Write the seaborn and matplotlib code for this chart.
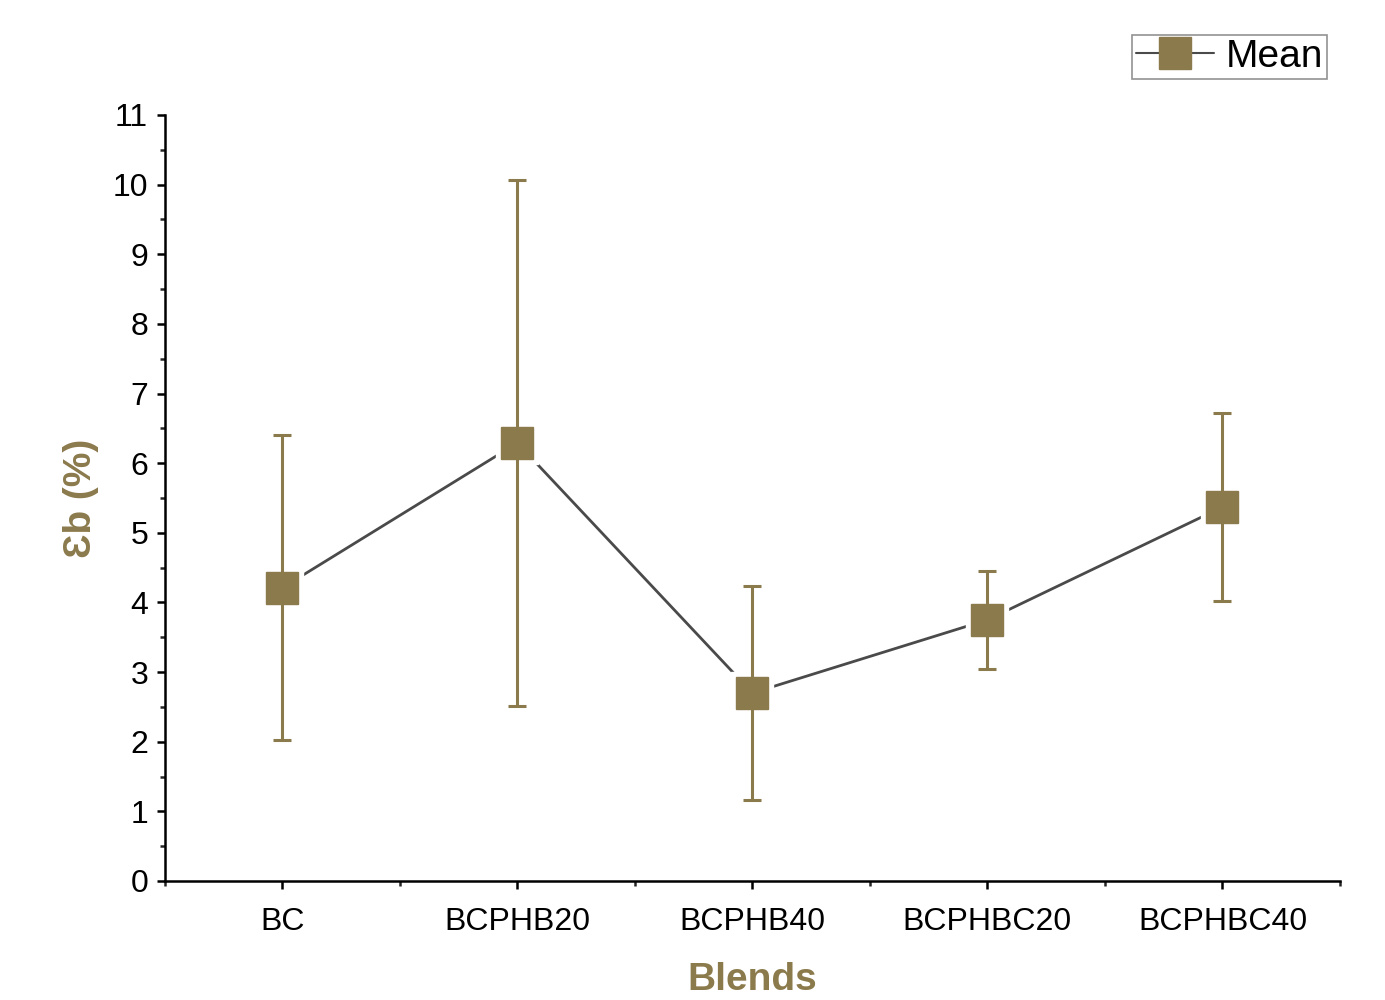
import numpy as np
import pandas as pd
import matplotlib
matplotlib.use("Agg")
import matplotlib.pyplot as plt
from matplotlib.lines import Line2D
from matplotlib.ticker import MultipleLocator
import seaborn as sns

# data
blends = ["BC", "BCPHB20", "BCPHB40", "BCPHBC20", "BCPHBC40"]
mean_eb = [4.21, 6.29, 2.70, 3.75, 5.37]
sd_eb = [2.19, 3.78, 1.53, 0.70, 1.35]

olive = "#8B7A4C"
grey = "#4a4a4a"

sns.set_style("ticks")
plt.rcParams["font.family"] = ["Liberation Sans", "DejaVu Sans"]
plt.rcParams["text.color"] = "black"

df = pd.DataFrame({"blend": blends, "mean": mean_eb, "sd": sd_eb})
df["pos"] = np.arange(len(df))

fig = plt.figure(figsize=(13.85, 10), dpi=100)
ax = fig.add_axes([0.119, 0.119, 0.8485, 0.766])

# connecting line
sns.lineplot(data=df, x="pos", y="mean", color=grey, linewidth=2, ax=ax, zorder=1)
# white halo so the line stops short of the squares
ax.plot(df["pos"], df["mean"], linestyle="none", marker="s", markersize=30,
        markerfacecolor="white", markeredgecolor="white", zorder=2)
# error bars
ax.errorbar(df["pos"], df["mean"], yerr=df["sd"], fmt="none", ecolor=olive,
            elinewidth=2.2, capsize=6.5, capthick=2.2, zorder=3)
# mean markers
ax.plot(df["pos"], df["mean"], linestyle="none", marker="s", markersize=23.5,
        markerfacecolor=olive, markeredgecolor=olive, zorder=4)

ax.set_xlim(-0.5, 4.5)
ax.set_ylim(0, 11)
ax.set_xticks(df["pos"])
ax.set_xticklabels(blends)
ax.xaxis.set_minor_locator(MultipleLocator(1, offset=0.5))
ax.yaxis.set_major_locator(MultipleLocator(1))
ax.yaxis.set_minor_locator(MultipleLocator(0.5))

for s in ["top", "right"]:
    ax.spines[s].set_visible(False)
for s in ["left", "bottom"]:
    ax.spines[s].set_linewidth(1.8)
    ax.spines[s].set_color("black")

ax.tick_params(axis="both", which="major", direction="out", length=6, width=1.8,
               labelsize=23, colors="black")
ax.tick_params(axis="both", which="minor", direction="out", length=3.5, width=1.8)
ax.tick_params(axis="x", pad=13)
ax.tick_params(axis="y", pad=6)

ax.set_xlabel("Blends", fontsize=28, fontweight="bold", color=olive, labelpad=18)
ax.set_ylabel("Ɛb (%)", fontsize=28, fontweight="bold", color=olive, labelpad=10)

handle = Line2D([0], [0], color=grey, linewidth=1.5, marker="s", markersize=23.5,
                markerfacecolor=olive, markeredgecolor=olive)
leg = fig.legend(handles=[handle], labels=["Mean"], loc="upper right",
                 bbox_to_anchor=(0.958, 0.965), fontsize=28, frameon=True,
                 fancybox=False, handlelength=2.0, borderpad=0.1,
                 handletextpad=0.3, borderaxespad=0)
leg.get_frame().set_edgecolor("#777777")
leg.get_frame().set_linewidth(1.2)
for t in leg.get_texts():
    t.set_color("black")

fig.savefig("out.png", dpi=100)
